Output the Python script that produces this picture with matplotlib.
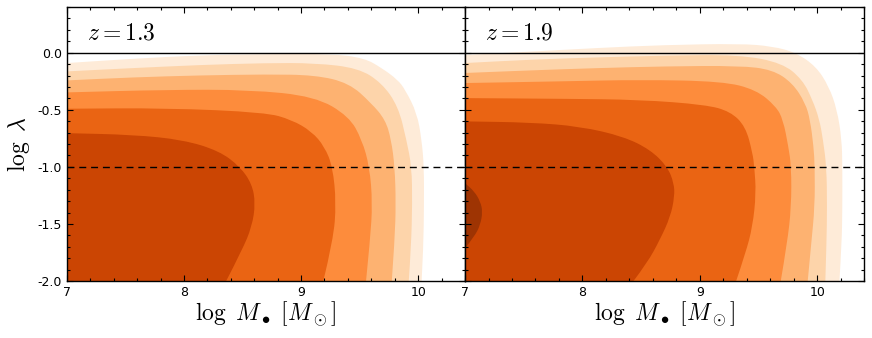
import numpy as np
import matplotlib
matplotlib.use('Agg')
import matplotlib.pyplot as plt
from matplotlib.path import Path
from matplotlib.patches import PathPatch
from matplotlib.ticker import MultipleLocator

plt.rcParams['mathtext.fontset'] = 'cm'
plt.rcParams['axes.unicode_minus'] = False

# contour boundaries, (log M, log lambda), outermost level first
# z = 1.3
z13_lvl1 = [(7.0, -0.091), (7.565, -0.053), (8.13, -0.023), (8.695, -0.012), (9.26, -0.010),
            (9.54, -0.047), (9.69, -0.135), (9.825, -0.237), (9.89, -0.325), (9.99, -0.529),
            (10.03, -0.763), (10.05, -1.0), (10.05, -1.348), (10.045, -1.70), (10.03, -2.0)]
z13_lvl2 = [(7.0, -0.164), (7.565, -0.135), (8.13, -0.108), (8.695, -0.091), (9.12, -0.091),
            (9.49, -0.135), (9.69, -0.266), (9.83, -0.471), (9.90, -0.763), (9.945, -1.0),
            (9.95, -1.319), (9.94, -1.70), (9.92, -2.0)]
z13_lvl3 = [(7.0, -0.243), (7.565, -0.216), (8.13, -0.199), (8.695, -0.19), (9.12, -0.196),
            (9.41, -0.266), (9.60, -0.442), (9.72, -0.588), (9.77, -0.763), (9.80, -1.0),
            (9.81, -1.319), (9.80, -1.64), (9.775, -2.0)]
z13_lvl4 = [(7.0, -0.348), (7.85, -0.325), (8.56, -0.325), (9.12, -0.383), (9.41, -0.558),
            (9.52, -0.763), (9.585, -1.0), (9.61, -1.319), (9.59, -1.64), (9.555, -2.0)]
z13_lvl5 = [(7.0, -0.491), (7.85, -0.485), (8.695, -0.523), (8.92, -0.588), (9.09, -0.69),
            (9.20, -0.822), (9.27, -1.0), (9.30, -1.319), (9.275, -1.64), (9.19, -2.0)]
z13_lvl6 = [(7.0, -0.705), (7.565, -0.719), (7.99, -0.763), (8.30, -0.860), (8.48, -1.0),
            (8.58, -1.150), (8.61, -1.319), (8.58, -1.523), (8.497, -1.728), (8.36, -2.0)]

# z = 1.9
z19_lvl1 = [(7.0, -0.02), (7.558, 0.009), (8.125, 0.041), (8.69, 0.067), (9.34, 0.079),
            (9.62, 0.056), (9.82, 0.0), (9.99, -0.12), (10.10, -0.295), (10.17, -0.50),
            (10.21, -0.763), (10.215, -1.0), (10.215, -1.348), (10.21, -1.67), (10.19, -2.0)]
z19_lvl2 = [(7.0, -0.091), (7.558, -0.061), (8.125, -0.041), (8.69, -0.026), (9.34, -0.018),
            (9.705, -0.091), (9.875, -0.237), (9.96, -0.412), (10.02, -0.588), (10.05, -0.763),
            (10.08, -1.0), (10.085, -1.348), (10.08, -1.67), (10.07, -2.0)]
z19_lvl3 = [(7.0, -0.178), (7.558, -0.155), (8.125, -0.135), (8.69, -0.12), (9.34, -0.114),
            (9.62, -0.149), (9.79, -0.266), (9.90, -0.442), (9.94, -0.588), (9.97, -0.822),
            (9.98, -1.0), (9.98, -1.348), (9.95, -1.67), (9.92, -2.0)]
z19_lvl4 = [(7.0, -0.266), (7.84, -0.251), (8.49, -0.237), (9.195, -0.251), (9.48, -0.325),
            (9.65, -0.471), (9.71, -0.588), (9.755, -0.822), (9.78, -1.0), (9.78, -1.348),
            (9.745, -1.67), (9.69, -2.0)]
z19_lvl5 = [(7.0, -0.398), (7.84, -0.404), (8.49, -0.412), (9.05, -0.456), (9.26, -0.515),
            (9.39, -0.646), (9.45, -0.88), (9.465, -1.0), (9.48, -1.231), (9.45, -1.523),
            (9.39, -1.757), (9.31, -2.0)]
z19_lvl6 = [(7.0, -0.602), (7.558, -0.611), (7.98, -0.646), (8.35, -0.734), (8.58, -0.851),
            (8.725, -1.0), (8.78, -1.143), (8.785, -1.26), (8.75, -1.436), (8.66, -1.64),
            (8.55, -1.845), (8.435, -2.0)]
z19_lvl7 = [(7.0, -1.143), (7.08, -1.216), (7.13, -1.304), (7.15, -1.392), (7.13, -1.509),
            (7.08, -1.61), (7.0, -1.713)]

level_colors = ['#feebd8', '#fdd4aa', '#fdb271', '#fd8c3c', '#ea6413', '#cb4503', '#9e3403']
redshifts = ['1.3', '1.9']
panels = [[z13_lvl1, z13_lvl2, z13_lvl3, z13_lvl4, z13_lvl5, z13_lvl6],
          [z19_lvl1, z19_lvl2, z19_lvl3, z19_lvl4, z19_lvl5, z19_lvl6, z19_lvl7]]


def smooth_region(pts, corner):
    # quadratic bezier through the midpoints, read points act as control points
    verts = [pts[0], ((pts[0][0] + pts[1][0]) / 2, (pts[0][1] + pts[1][1]) / 2)]
    codes = [Path.MOVETO, Path.LINETO]
    for k in range(1, len(pts) - 1):
        nxt = pts[k + 1]
        mid = ((pts[k][0] + nxt[0]) / 2, (pts[k][1] + nxt[1]) / 2)
        if k == len(pts) - 2:
            mid = nxt
        verts += [pts[k], mid]
        codes += [Path.CURVE3, Path.CURVE3]
    if corner is not None:
        verts.append(corner)
        codes.append(Path.LINETO)
    verts.append(pts[0])
    codes.append(Path.CLOSEPOLY)
    return Path(verts, codes)


fig = plt.figure(figsize=(8.72, 3.38), dpi=100)
axl = fig.add_axes([0.0768, 0.1686, 0.4564, 0.8107])
axr = fig.add_axes([0.5333, 0.1686, 0.4576, 0.8107], sharey=axl)

for ax, zz, levels in zip([axl, axr], redshifts, panels):
    for i, pts in enumerate(levels):
        corner = (7.0, -2.0) if i < 6 else None
        ax.add_patch(PathPatch(smooth_region(pts, corner), facecolor=level_colors[i],
                               edgecolor='none', lw=0, zorder=1))
    ax.axhline(0.0, color='k', lw=1.0, zorder=3)
    ax.axhline(-1.0, color='k', lw=1.0, ls=(0, (5, 3.5)), zorder=3)
    ax.text(7.17, 0.175, r'$z=%s$' % zz, fontsize=17, va='center', ha='left')
    ax.set_xlim(7, 10.4)
    ax.set_ylim(-2.0, 0.4)
    ax.set_xticks([7, 8, 9, 10])
    ax.set_xticklabels(['7', '8', '9', '10'])
    ax.xaxis.set_minor_locator(MultipleLocator(0.2))
    ax.yaxis.set_minor_locator(MultipleLocator(0.1))
    ax.tick_params(which='both', direction='in', top=True, right=True, labelsize=9, width=0.8)
    ax.tick_params(which='major', length=4.5)
    ax.tick_params(which='minor', length=2.3)
    ax.set_xlabel(r'$\log\ M_\bullet\ [M_\odot]$', fontsize=17, labelpad=0)
    for s in ax.spines.values():
        s.set_linewidth(1.0)

axl.set_yticks([0.0, -0.5, -1.0, -1.5, -2.0])
axl.set_yticklabels(['0.0', '-0.5', '-1.0', '-1.5', '-2.0'])
axl.set_ylabel(r'$\log\ \lambda$', fontsize=17, labelpad=4)
plt.setp(axr.get_yticklabels(), visible=False)

fig.savefig('out.png', dpi=100)
